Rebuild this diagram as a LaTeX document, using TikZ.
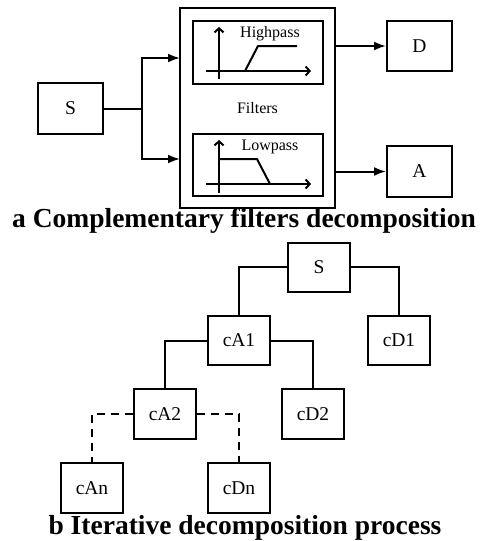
\documentclass[tikz,border=0pt]{standalone}
\usepackage{fontspec}
\setmainfont{Liberation Serif}
\usepackage{tikz}
\usetikzlibrary{arrows.meta,positioning,calc}
\tikzset{
  box/.style={rectangle, draw, line width=2pt, align=center, inner sep=0pt,
              minimum width=62pt, minimum height=49pt, font=\fontsize{19.5}{22}\selectfont},
  filterbox/.style={rectangle, draw, line width=2pt, inner sep=0pt,
              minimum width=130pt, minimum height=63pt},
  outerbox/.style={rectangle, draw, line width=2pt, inner sep=0pt,
              minimum width=155pt, minimum height=200pt, font=\fontsize{16}{18}\selectfont},
  flow/.style={-{Latex[length=12pt,width=9pt]}, line width=2pt},
  link/.style={line width=2pt},
  dlink/.style={line width=2pt, dash pattern=on 8pt off 6pt},
  axis/.style={-{Straight Barb[length=4pt,width=9pt]}, line width=2pt},
  resp/.style={line width=2pt},
  flabel/.style={font=\fontsize{16}{18}\selectfont},
  caption/.style={font=\fontsize{27.5}{30}\selectfont\bfseries},
}
\begin{document}
\begin{tikzpicture}[x=1pt, y=-1pt]
  \useasboundingbox (0,0) rectangle (480,541);
  % a: complementary filters
  \node[box, minimum width=65pt, minimum height=51pt] (s) at (70.5,108.5) {S};
  \node[outerbox] (filt) at (257.5,108) {Filters};
  \node[filterbox] (hp) at (258,52.5) {};
  \node[filterbox, minimum height=62pt] (lp) at (258,165) {};
  \node[box, minimum width=65pt, minimum height=50pt] (d) at (419.5,46) {D};
  \node[box, minimum width=65pt, minimum height=51pt] (a) at (419.5,171.5) {A};
  \coordinate (br) at (142,108.5);
  \coordinate (inH) at (180,58);
  \coordinate (inL) at (180,159);
  \draw[link] (s.east) -- (br);
  \draw[flow] (br) |- (inH);
  \draw[flow] (br) |- (inL);
  \draw[flow] (filt.east |- d.west) -- (d.west);
  \draw[flow] (filt.east |- a.west) -- (a.west);
  % highpass sketch
  \draw[axis] (219,79) -- (219,27);
  \draw[axis] (206,71) -- (311,71);
  \draw[resp] (245,71) -- (258,46) -- (297,46);
  \node[flabel] (hpl) at (270,34) {Highpass};
  % lowpass sketch
  \draw[axis] (219,193) -- (219,140);
  \draw[axis] (206,184) -- (311,184);
  \draw[resp] (219,159) -- (257,159) -- (270,184);
  \node[flabel] (lpl) at (270,147) {Lowpass};
  \node[caption] (capa) at (244,221) {a Complementary filters decomposition};
  % b: iterative decomposition
  \node[box] (s2) at (319,267) {S};
  \node[box] (ca1) at (239,340.5) {cA1};
  \node[box] (cd1) at (399,340.5) {cD1};
  \node[box, minimum height=50pt] (ca2) at (165,414) {cA2};
  \node[box, minimum height=50pt] (cd2) at (313,414) {cD2};
  \node[box, minimum height=50pt] (can) at (92,488) {cAn};
  \node[box, minimum height=50pt] (cdn) at (239,488) {cDn};
  \draw[link] (s2.west) -| (ca1.north);
  \draw[link] (s2.east) -| (cd1.north);
  \draw[link] (ca1.west) -| (ca2.north);
  \draw[link] (ca1.east) -| (cd2.north);
  \draw[dlink] (ca2.west) -| (can.north);
  \draw[dlink] (ca2.east) -| (cdn.north);
  \node[caption] (capb) at (245,528) {b Iterative decomposition process};
\end{tikzpicture}
\end{document}
